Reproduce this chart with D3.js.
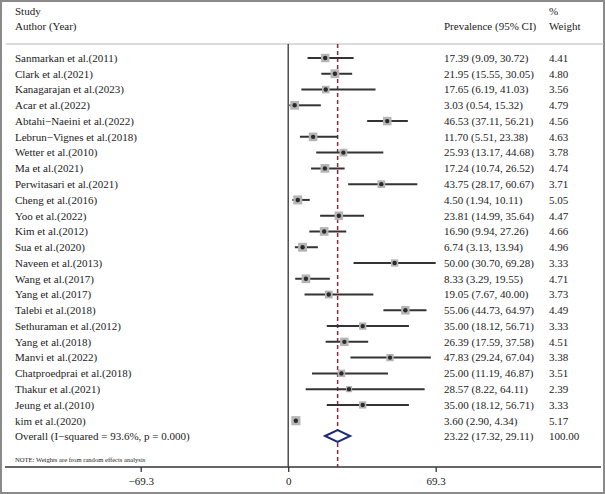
<!DOCTYPE html>
<html>
<head>
<meta charset="utf-8">
<script src="https://d3js.org/d3.v7.min.js"></script>
<style>
  body { margin: 0; background: #fff; }
  svg text { font-family: "Liberation Serif", "Times New Roman", serif; fill: #222; }
  .ci { stroke: #333; stroke-width: 2px; }
</style>
</head>
<body>
<svg width="605" height="494"></svg>
<script>
const studies = [
  "Sanmarkan et al.(2011)", "Clark et al.(2021)", "Kanagarajan et al.(2023)", "Acar et al.(2022)",
  "Abtahi\u2212Naeini et al.(2022)", "Lebrun\u2212Vignes et al.(2018)", "Wetter et al.(2010)", "Ma et al.(2021)",
  "Perwitasari et al.(2021)", "Cheng et al.(2016)", "Yoo et al.(2022)", "Kim et al.(2012)",
  "Sua et al.(2020)", "Naveen et al.(2013)", "Wang et al.(2017)", "Yang et al.(2017)",
  "Talebi et al.(2018)", "Sethuraman et al.(2012)", "Yang et al.(2018)", "Manvi et al.(2022)",
  "Chatproedprai et al.(2018)", "Thakur et al.(2021)", "Jeung et al.(2010)", "kim et al.(2020)"
];
const prevalence = [17.39, 21.95, 17.65, 3.03, 46.53, 11.70, 25.93, 17.24, 43.75, 4.50, 23.81, 16.90,
                    6.74, 50.00, 8.33, 19.05, 55.06, 35.00, 26.39, 47.83, 25.00, 28.57, 35.00, 3.60];
const lower = [9.09, 15.55, 6.19, 0.54, 37.11, 5.51, 13.17, 10.74, 28.17, 1.94, 14.99, 9.94,
               3.13, 30.70, 3.29, 7.67, 44.73, 18.12, 17.59, 29.24, 11.19, 8.22, 18.12, 2.90];
const upper = [30.72, 30.05, 41.03, 15.32, 56.21, 23.38, 44.68, 26.52, 60.67, 10.11, 35.64, 27.26,
               13.94, 69.28, 19.55, 40.00, 64.97, 56.71, 37.58, 67.04, 46.87, 64.11, 56.71, 4.34];
const weights = [4.41, 4.80, 3.56, 4.79, 4.56, 4.63, 3.78, 4.74, 3.71, 5.05, 4.47, 4.66,
                 4.96, 3.33, 4.71, 3.73, 4.49, 3.33, 4.51, 3.38, 3.51, 2.39, 3.33, 5.17];
const overall = { est: 23.22, lo: 17.32, hi: 29.11, weight: "100.00",
                  label: "Overall  (I\u2212squared = 93.6%, p = 0.000)" };
const tickValues = [-69.3, 0, 69.3];
const tickLabels = ["\u221269.3", "0", "69.3"];

const svg = d3.select("svg");
const f2 = d3.format(".2f");

// outer frame
svg.append("rect").attr("x", 1).attr("y", 1).attr("width", 603).attr("height", 492)
  .attr("fill", "none").attr("stroke", "#8a8a8a").attr("stroke-width", 2);

const x = d3.scaleLinear().domain([-69.3, 69.3]).range([140.7, 435.7]);
const y = d3.scaleLinear().domain([0, studies.length - 1]).range([58, 420.7]);
const yOverall = 436;
const topY = 44, axisY = 467;
const textX = 15, ciX = 444, wX = 549;
const half = w => 2 * Math.sqrt(w);   // half side of weight box

// header
svg.append("text").attr("x", textX).attr("y", 15).style("font-size", "11px").text("Study");
svg.append("text").attr("x", textX).attr("y", 30).style("font-size", "11px").text("Author (Year)");
svg.append("text").attr("x", ciX).attr("y", 30).style("font-size", "11px").text("Prevalence (95% CI)");
svg.append("text").attr("x", wX).attr("y", 15).style("font-size", "11px").text("%");
svg.append("text").attr("x", wX).attr("y", 30).style("font-size", "11px").text("Weight");
svg.append("line").attr("x1", 6).attr("x2", 604).attr("y1", topY).attr("y2", topY)
  .attr("stroke", "#b8b8b8").attr("stroke-width", 1.2);

// zero line and overall dashed line
svg.append("line").attr("x1", x(0)).attr("x2", x(0)).attr("y1", topY).attr("y2", axisY)
  .attr("stroke", "#333").attr("stroke-width", 1.3);
svg.append("line").attr("x1", x(overall.est)).attr("x2", x(overall.est)).attr("y1", topY).attr("y2", axisY)
  .attr("stroke", "#8b2a3e").attr("stroke-width", 1.5).attr("stroke-dasharray", "4,3");

// rows
const rows = svg.append("g").selectAll("g").data(studies).join("g")
  .attr("transform", (d, i) => "translate(0," + y(i) + ")");

rows.append("text").attr("x", textX).attr("dy", "0.35em").style("font-size", "11px").text(d => d);
rows.append("line").attr("class", "ci")
  .attr("x1", (d, i) => x(lower[i])).attr("x2", (d, i) => x(upper[i]));
rows.append("rect")
  .attr("x", (d, i) => x(prevalence[i]) - half(weights[i]))
  .attr("y", (d, i) => -half(weights[i]))
  .attr("width", (d, i) => 2 * half(weights[i]))
  .attr("height", (d, i) => 2 * half(weights[i]))
  .attr("fill", "#b5b5b5");
rows.append("circle").attr("cx", (d, i) => x(prevalence[i])).attr("r", 2.2).attr("fill", "#2a2a2a");
rows.append("text").attr("x", ciX).attr("dy", "0.35em").style("font-size", "11px")
  .text((d, i) => f2(prevalence[i]) + " (" + f2(lower[i]) + ", " + f2(upper[i]) + ")");
rows.append("text").attr("x", wX).attr("dy", "0.35em").style("font-size", "11px")
  .text((d, i) => f2(weights[i]));

// overall
svg.append("text").attr("x", textX).attr("y", yOverall).attr("dy", "0.35em").style("font-size", "11px").text(overall.label);
svg.append("path")
  .attr("d", "M" + x(overall.lo) + "," + yOverall + "L" + x(overall.est) + "," + (yOverall - 6) +
             "L" + x(overall.hi) + "," + yOverall + "L" + x(overall.est) + "," + (yOverall + 6) + "Z")
  .attr("fill", "#fff").attr("stroke", "#1f2a78").attr("stroke-width", 2);
svg.append("text").attr("x", ciX).attr("y", yOverall).attr("dy", "0.35em").style("font-size", "11px")
  .text(f2(overall.est) + " (" + f2(overall.lo) + ", " + f2(overall.hi) + ")");
svg.append("text").attr("x", wX).attr("y", yOverall).attr("dy", "0.35em").style("font-size", "11px").text(overall.weight);

svg.append("text").attr("x", textX).attr("y", 462).style("font-size", "6.6px")
  .text("NOTE: Weights are from random effects analysis");

// axis
svg.append("line").attr("x1", 5).attr("x2", 601).attr("y1", axisY).attr("y2", axisY)
  .attr("stroke", "#333").attr("stroke-width", 1.3);
const axis = svg.append("g").attr("transform", "translate(0," + axisY + ")")
  .call(d3.axisBottom(x).tickValues(tickValues).tickSize(5).tickFormat((d, i) => tickLabels[i]));
axis.select(".domain").remove();
axis.selectAll(".tick line").attr("stroke", "#333").attr("stroke-width", 1.3);
axis.selectAll(".tick text").attr("y", 10).style("font-size", "11px")
  .style("font-family", "Liberation Serif, serif").attr("fill", "#222");
</script>
</body>
</html>
